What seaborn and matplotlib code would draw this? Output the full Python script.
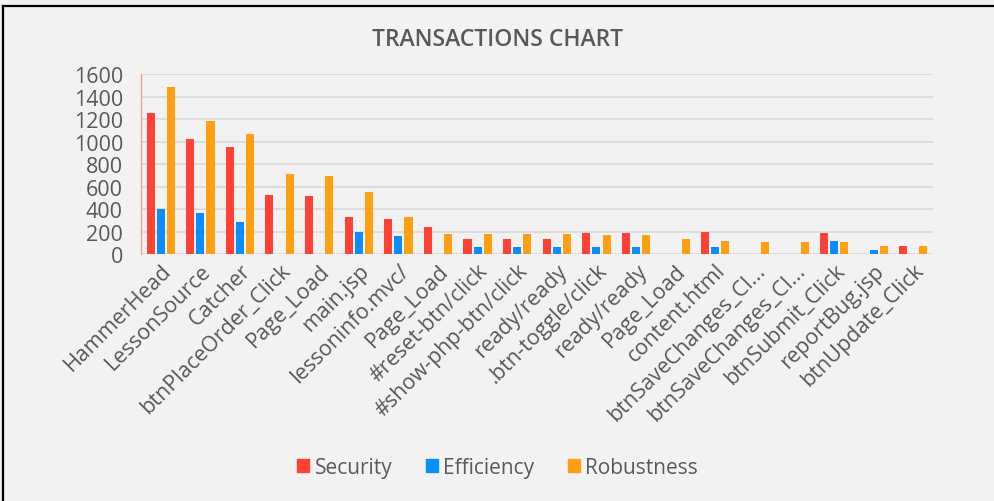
import pandas as pd
import matplotlib.pyplot as plt
import seaborn as sns
from matplotlib.lines import Line2D

# dados
transacoes = ['HammerHead', 'LessonSource', 'Catcher', 'btnPlaceOrder_Click', 'Page_Load',
              'main.jsp', 'lessoninfo.mvc/', 'Page_Load', '#reset-btn/click', '#show-php-btn/click',
              'ready/ready', '.btn-toggle/click', 'ready/ready', 'Page_Load', 'content.html',
              'btnSaveChanges_Cl...', 'btnSaveChanges_Cl...', 'btnSubmit_Click', 'reportBug.jsp',
              'btnUpdate_Click']
security = [1253, 1019, 948, 524, 516, 329, 308, 237, 136, 136, 136, 187, 187, 0, 198, 0, 0, 187, 0, 74]
efficiency = [400, 361, 281, 0, 0, 198, 157, 0, 65, 65, 65, 65, 65, 0, 65, 0, 0, 116, 33, 0]
robustness = [1487, 1182, 1070, 708, 690, 548, 332, 178, 178, 178, 178, 169, 169, 133, 116, 104, 104, 104, 74, 74]
series = ['Security', 'Efficiency', 'Robustness']
cores = ['#ff4136', '#0a8eff', '#ffa012']

idx = [str(i) for i in range(len(transacoes))]
df = pd.DataFrame({'idx': idx, 'Security': security, 'Efficiency': efficiency, 'Robustness': robustness})
df_long = df.melt(id_vars='idx', value_vars=series, var_name='Serie', value_name='Valor')

plt.rcParams['font.family'] = ['Open Sans', 'DejaVu Sans']
cinza = '#595959'
fundo = '#f2f2f2'

fig = plt.figure(figsize=(9.95, 5.02), dpi=100, facecolor=fundo)
ax = fig.add_axes([0.1417, 0.492, 0.796, 0.3586])
ax.set_facecolor(fundo)

sns.barplot(data=df_long, x='idx', y='Valor', hue='Serie', order=idx, hue_order=series,
            palette=cores, saturation=1, width=0.77, gap=0.2, ax=ax, legend=False, zorder=3)

ax.set_ylim(0, 1600)
ax.set_yticks(range(0, 1601, 200))
ax.set_xlim(-0.5, len(transacoes) - 0.5)
ax.grid(axis='y', color='#d9d9d9', linewidth=1.2, zorder=0)
ax.set_axisbelow(True)
for lado in ['top', 'right', 'bottom']:
    ax.spines[lado].set_visible(False)
ax.spines['left'].set_color('#ff9a94')
ax.spines['left'].set_linewidth(1)
ax.tick_params(axis='both', length=0, colors=cinza)
ax.tick_params(axis='y', pad=13, labelsize=15.5)
ax.tick_params(axis='x', pad=4, labelsize=15.5)
ax.set_xticks(range(len(transacoes)))
ax.set_xticklabels(transacoes, rotation=45, ha='right', rotation_mode='anchor')
ax.set_xlabel('')
ax.set_ylabel('')

fig.text(0.5, 0.92, 'TRANSACTIONS CHART', ha='center', va='center', fontsize=16.5,
         color=cinza, fontweight='semibold')

handles = [plt.Rectangle((0, 0), 1, 1, color=c) for c in cores]
fig.legend(handles, series, loc='center', bbox_to_anchor=(0.5, 0.067), ncol=3, frameon=False,
           fontsize=15, labelcolor=cinza, handlelength=0.6, handleheight=0.6,
           handletextpad=0.25, columnspacing=1.6)

# moldura
fig.add_artist(Line2D([0.003, 1.0], [0.986, 0.986], color='black', linewidth=1.6, transform=fig.transFigure))
fig.add_artist(Line2D([0.0035, 0.0035], [0.0, 0.986], color='black', linewidth=1.6, transform=fig.transFigure))

fig.savefig('out.png', dpi=100, facecolor=fundo)
